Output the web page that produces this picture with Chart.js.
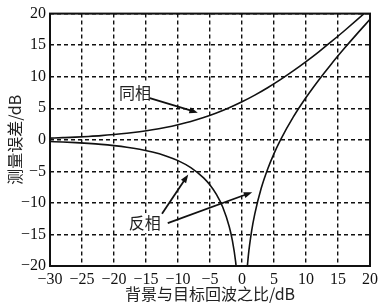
<!DOCTYPE html>
<html>
<head>
<meta charset="utf-8">
<script src="https://cdn.jsdelivr.net/npm/chart.js@4"></script>
<style>
  html, body { margin: 0; padding: 0; background: #fff; }
  #wrap { width: 386px; height: 305px; }
</style>
</head>
<body>
<div id="wrap"><canvas id="chart" width="386" height="305"></canvas></div>
<script>
// 背景与目标回波之比 (dB)
const xInPhase = [-30, -28, -26, -24, -22, -20, -18, -16, -14, -12, -10, -8, -6, -4, -2, 0, 2, 4, 6, 8, 10, 12, 14, 16, 18, 20];
const yInPhase = [0.27, 0.34, 0.42, 0.53, 0.66, 0.83, 1.03, 1.28, 1.58, 1.95, 2.39, 2.91, 3.53, 4.25, 5.08, 6.02, 7.08, 8.25, 9.53, 10.91, 12.39, 13.95, 15.58, 17.28, 19.03, 20.83];

// 反相: 左支与右支
const xAntiLeft = [-30, -28, -26, -24, -22, -20, -18, -16, -14, -12, -10, -8, -6, -5, -4, -3, -2, -1.5, -1, -0.6];
const yAntiLeft = [-0.28, -0.35, -0.45, -0.57, -0.72, -0.92, -1.17, -1.50, -1.93, -2.51, -3.30, -4.41, -6.04, -7.18, -8.66, -10.69, -13.74, -15.99, -19.28, -23.5];
const xAntiRight = [0.6, 1, 1.5, 2, 3, 4, 5, 6, 8, 10, 12, 14, 16, 18, 20];
const yAntiRight = [-22.9, -18.27, -14.49, -11.74, -7.69, -4.66, -2.18, -0.04, 3.59, 6.70, 9.49, 12.07, 14.50, 16.83, 19.08];

const xTicks = [-30, -25, -20, -15, -10, -5, 0, 5, 10, 15, 20];
const yTicks = [-20, -15, -10, -5, 0, 5, 10, 15, 20];

const pts = (xs, ys) => xs.map((x, i) => ({ x: x, y: ys[i] }));
const fontFamily = "'Liberation Serif', serif";
const cjkFamily = "'Noto Sans CJK SC', sans-serif";

// 标注 (数据坐标)
const notes = [
  { text: "同相", x: -16.7, y: 7.4, arrows: [[-14.4, 6.6, -6.9, 4.3]] },
  { text: "反相", x: -15.2, y: -13.2, arrows: [[-12.5, -11.7, -8.4, -5.5], [-11.6, -13.2, 1.6, -8.3]] }
];

const frameAndNotes = {
  id: "frameAndNotes",
  afterDatasetsDraw(chart) {
    const { ctx, chartArea: a, scales } = chart;
    ctx.save();
    ctx.strokeStyle = "#111";
    ctx.lineWidth = 2;
    ctx.strokeRect(a.left, a.top, a.right - a.left, a.bottom - a.top);

    ctx.font = "16px " + cjkFamily;
    ctx.textAlign = "center";
    ctx.textBaseline = "middle";
    notes.forEach(n => {
      const tx = scales.x.getPixelForValue(n.x);
      const ty = scales.y.getPixelForValue(n.y);
      ctx.fillStyle = "#fff";
      ctx.fillRect(tx - 17, ty - 10, 34, 20);
      ctx.fillStyle = "#222";
      ctx.fillText(n.text, tx, ty);
      n.arrows.forEach(([x0, y0, x1, y1]) => {
        const px0 = scales.x.getPixelForValue(x0), py0 = scales.y.getPixelForValue(y0);
        const px1 = scales.x.getPixelForValue(x1), py1 = scales.y.getPixelForValue(y1);
        const ang = Math.atan2(py1 - py0, px1 - px0);
        ctx.lineWidth = 1.8;
        ctx.strokeStyle = "#111";
        ctx.beginPath();
        ctx.moveTo(px0, py0);
        ctx.lineTo(px1 - 6 * Math.cos(ang), py1 - 6 * Math.sin(ang));
        ctx.stroke();
        ctx.fillStyle = "#111";
        ctx.beginPath();
        ctx.moveTo(px1, py1);
        ctx.lineTo(px1 - 9 * Math.cos(ang - 0.35), py1 - 9 * Math.sin(ang - 0.35));
        ctx.lineTo(px1 - 9 * Math.cos(ang + 0.35), py1 - 9 * Math.sin(ang + 0.35));
        ctx.closePath();
        ctx.fill();
      });
    });
    ctx.restore();
  }
};

const lineStyle = {
  borderColor: "#111",
  borderWidth: 1.6,
  pointRadius: 0,
  fill: false,
  tension: 0.4,
  cubicInterpolationMode: "monotone"
};

const tickFmt = v => String(v).replace("-", "\u2212");

new Chart(document.getElementById("chart"), {
  type: "line",
  data: {
    datasets: [
      { label: "同相", data: pts(xInPhase, yInPhase), ...lineStyle },
      { label: "反相", data: pts(xAntiLeft, yAntiLeft), ...lineStyle },
      { label: "反相2", data: pts(xAntiRight, yAntiRight), ...lineStyle }
    ]
  },
  options: {
    responsive: false,
    animation: false,
    layout: { padding: { top: 6, right: 16, left: 0, bottom: 0 } },
    plugins: { legend: { display: false }, tooltip: { enabled: false } },
    scales: {
      x: {
        type: "linear",
        min: -30,
        max: 20,
        afterBuildTicks: s => { s.ticks = xTicks.map(v => ({ value: v })); },
        afterFit: s => { s.height = 39; },
        grid: { color: "#111", lineWidth: 1.4, drawTicks: false },
        border: { display: false, dash: [4, 3] },
        ticks: {
          color: "#111",
          padding: 4,
          maxRotation: 0,
          minRotation: 0,
          autoSkip: false,
          font: { family: fontFamily, size: 16 },
          callback: tickFmt
        },
        title: {
          display: true,
          text: "背景与目标回波之比/dB",
          color: "#222",
          padding: { top: 0, bottom: 1 },
          font: { family: cjkFamily, size: 16 }
        }
      },
      y: {
        min: -20,
        max: 20,
        afterBuildTicks: s => { s.ticks = yTicks.map(v => ({ value: v })); },
        afterFit: s => { s.width = 50; },
        grid: { color: "#111", lineWidth: 1.4, drawTicks: false },
        border: { display: false, dash: [4, 3] },
        ticks: {
          color: "#111",
          padding: 4,
          font: { family: fontFamily, size: 16 },
          callback: tickFmt
        },
        title: {
          display: true,
          text: "测量误差/dB",
          color: "#222",
          padding: { top: 5, bottom: 0 },
          font: { family: cjkFamily, size: 16 }
        }
      }
    }
  },
  plugins: [frameAndNotes]
});
</script>
</body>
</html>
